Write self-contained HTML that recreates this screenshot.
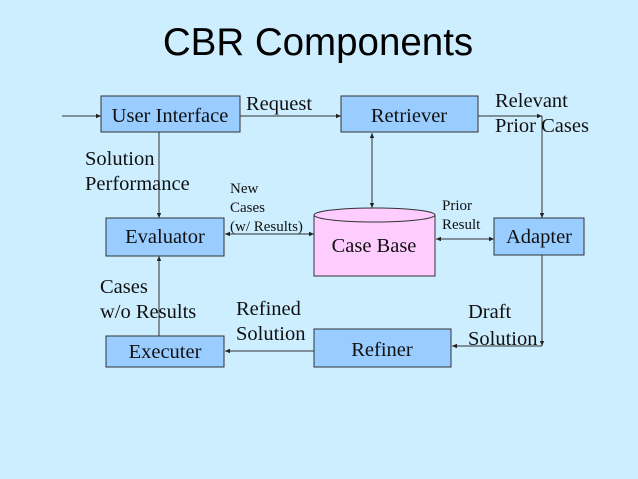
<!DOCTYPE html>
<html><head><meta charset="utf-8"><style>
body{margin:0;background:#cceeff;}
svg{display:block}
.s{font-family:"Liberation Serif",serif;font-size:20.5px;fill:#111}
.t{font-family:"Liberation Serif",serif;font-size:15px;fill:#111}
</style></head><body>
<svg width="638" height="479" viewBox="0 0 638 479">
<defs><marker id="a" markerWidth="6" markerHeight="6" refX="5" refY="3" orient="auto-start-reverse"><path d="M0,0.8 L5,3 L0,5.2z" fill="#222"/></marker></defs>
<rect width="638" height="479" fill="#cceeff"/>
<text x="318" y="55" text-anchor="middle" font-family="Liberation Sans,sans-serif" font-size="38.5" fill="#000">CBR Components</text>
<g stroke="#333" stroke-width="1" fill="none">
<line x1="62" y1="116" x2="101" y2="116" marker-end="url(#a)"/>
<line x1="240" y1="116" x2="341" y2="116" marker-end="url(#a)"/>
<line x1="478" y1="116" x2="542" y2="116" marker-end="url(#a)"/>
<line x1="542" y1="116" x2="542" y2="218" marker-end="url(#a)"/>
<line x1="372" y1="133" x2="372" y2="208" marker-start="url(#a)" marker-end="url(#a)"/>
<line x1="159" y1="132" x2="159" y2="218" marker-end="url(#a)"/>
<line x1="225" y1="234" x2="314" y2="234" marker-start="url(#a)" marker-end="url(#a)"/>
<line x1="436" y1="239" x2="494" y2="239" marker-start="url(#a)" marker-end="url(#a)"/>
<line x1="542" y1="255" x2="542" y2="346" marker-end="url(#a)"/>
<line x1="542" y1="346" x2="452" y2="346" marker-end="url(#a)"/>
<line x1="314" y1="351" x2="225" y2="351" marker-end="url(#a)"/>
<line x1="159" y1="336" x2="159" y2="256" marker-end="url(#a)"/>
</g>
<g fill="#99ccff" stroke="#333" stroke-width="1">
<rect x="101" y="96" width="139" height="36"/>
<rect x="341" y="96" width="137" height="36"/>
<rect x="106" y="218" width="118" height="38"/>
<rect x="494" y="218" width="90" height="37"/>
<rect x="106" y="336" width="118" height="31"/>
<rect x="314" y="329" width="137" height="38"/>
<path d="M314,215 L314,276 L435,276 L435,215" fill="#ffccff"/>
<ellipse cx="374.5" cy="215" rx="60.5" ry="7" fill="#ffccff"/>
</g>
<text class="s" x="170" y="122" text-anchor="middle">User Interface</text>
<text class="s" x="409" y="122" text-anchor="middle">Retriever</text>
<text class="s" x="165" y="243" text-anchor="middle">Evaluator</text>
<text class="s" x="539" y="243" text-anchor="middle">Adapter</text>
<text class="s" x="165" y="358" text-anchor="middle">Executer</text>
<text class="s" x="382" y="356" text-anchor="middle">Refiner</text>
<text class="s" x="374" y="252" text-anchor="middle">Case Base</text>
<text class="s" x="246" y="110">Request</text>
<text class="s" x="495" y="107">Relevant</text>
<text class="s" x="495" y="132">Prior Cases</text>
<text class="s" x="85" y="165">Solution</text>
<text class="s" x="85" y="190">Performance</text>
<text class="s" x="100" y="293">Cases</text>
<text class="s" x="100" y="318">w/o Results</text>
<text class="s" x="236" y="315">Refined</text>
<text class="s" x="236" y="340">Solution</text>
<text class="s" x="468" y="318">Draft</text>
<text class="s" x="468" y="345">Solution</text>
<text class="t" x="230" y="193">New</text>
<text class="t" x="230" y="212">Cases</text>
<text class="t" x="230" y="231">(w/ Results)</text>
<text class="t" x="442" y="210">Prior</text>
<text class="t" x="442" y="229">Result</text>
</svg>
</body></html>
